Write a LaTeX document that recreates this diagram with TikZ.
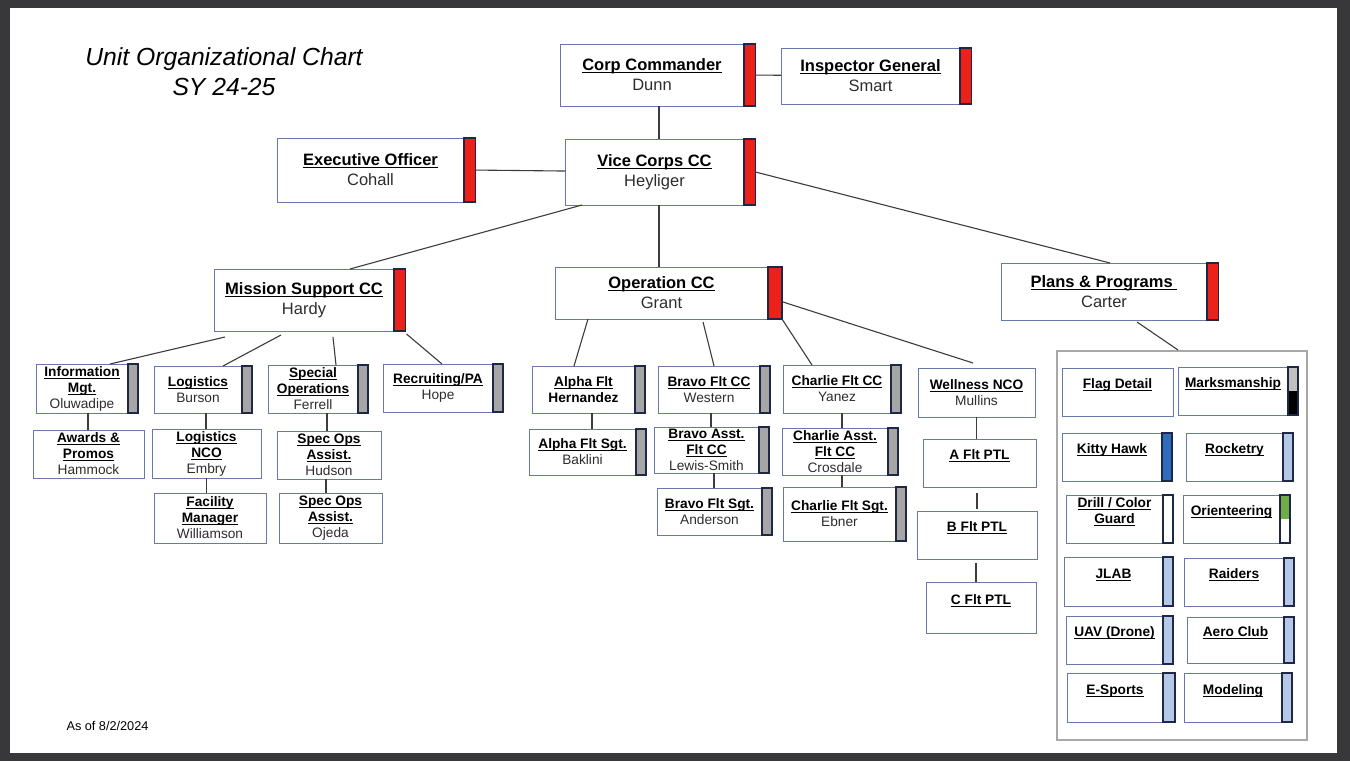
\documentclass[tikz,border=0pt]{standalone}
\usepackage{fontspec}
\setmainfont{Liberation Sans}
\usepackage{tikz}
\usetikzlibrary{positioning}
\definecolor{cardline}{RGB}{104,120,172}
\definecolor{barline}{RGB}{30,40,70}
\definecolor{barred}{RGB}{236,34,26}
\definecolor{bargrey}{RGB}{166,166,166}
\definecolor{barsilver}{RGB}{192,192,192}
\definecolor{barblue}{RGB}{46,108,190}
\definecolor{barpale}{RGB}{182,200,232}
\definecolor{bargreen}{RGB}{112,173,71}
\definecolor{linkgrey}{RGB}{60,60,60}
\definecolor{framegrey}{RGB}{56,56,58}
\definecolor{panelgrey}{RGB}{168,168,168}
\definecolor{nametext}{RGB}{45,45,45}

\newsavebox{\hdrbox}
\newcommand{\cardbig}{\fontsize{16.5}{20}\selectfont}
\newcommand{\cardsmall}{\fontsize{13.7}{16}\selectfont}
\newcommand{\hdr}[1]{\sbox{\hdrbox}{\textbf{#1}}\rlap{\rule[-2.4pt]{\wd\hdrbox}{0.9pt}}\usebox{\hdrbox}}
\newcommand{\nm}[1]{\textcolor{nametext}{#1}}

\begin{document}
\begin{tikzpicture}[
    x=1pt, y=-1pt,
    card/.style={rectangle, draw=cardline, fill=white, line width=0.8pt, inner sep=1pt, outer sep=0pt, align=center, anchor=north west, font=\cardsmall},
    bigcard/.style={card, font=\cardbig},
    dims/.style 2 args={minimum width=#1, minimum height=#2},
    bar/.style={rectangle, draw=barline, line width=1.5pt, inner sep=0pt, outer sep=0pt, minimum width=10, minimum height=#1},
    redbar/.style={bar=#1, fill=barred, minimum width=11.5},
    greybar/.style={bar=#1, fill=bargrey},
    palebar/.style={bar=#1, fill=barpale},
    panelbox/.style={rectangle, draw=panelgrey, line width=1.6pt, fill=white, anchor=north west, inner sep=0pt},
    link/.style={draw=linkgrey, line width=1.1pt}
]
    \fill[framegrey] (0,0) rectangle (1350,761);
    \fill[white] (10,8) rectangle (1337,753);

    \node[font=\fontsize{24.7}{30}\selectfont\itshape, align=center] (title) at (224,72) {Unit Organizational Chart\\SY 24-25};
    \node[font=\fontsize{12.7}{15}\selectfont, anchor=west] (asof) at (63,726) {As of 8/2/2024};

    \node[bigcard, dims={184}{62}] (corp) at (560,44) {\hdr{Corp Commander}\\\nm{Dunn}};
    \node[redbar=62, right=0pt of corp] (corpbar) {};
    \node[bigcard, dims={179}{56}] (ig) at (781,48) {\hdr{Inspector General}\\\nm{Smart}};
    \node[redbar=56, right=0pt of ig] (igbar) {};
    \node[bigcard, dims={179}{66}] (vice) at (565,139) {\hdr{Vice Corps CC}\\\nm{Heyliger}};
    \node[redbar=66, right=0pt of vice] (vicebar) {};
    \node[bigcard, dims={187}{64}] (xo) at (277,138) {\hdr{Executive Officer}\\\nm{Cohall}};
    \node[redbar=64, right=0pt of xo] (xobar) {};
    \node[bigcard, dims={180}{62}] (ms) at (214,269) {\hdr{Mission Support CC}\\\nm{Hardy}};
    \node[redbar=62, right=0pt of ms] (msbar) {};
    \node[bigcard, dims={213}{52}] (ops) at (555,267) {\hdr{Operation CC}\\\nm{Grant}};
    \node[redbar=52, right=0pt of ops, minimum width=14] (opsbar) {};
    \node[bigcard, dims={206}{57}] (plans) at (1001,263) {\hdr{Plans \& Programs\ }\\\nm{Carter}};
    \node[redbar=57, right=0pt of plans] (plansbar) {};

    \node[card, dims={92}{49}] (info) at (36,364) {\hdr{Information}\\\hdr{Mgt.}\\\nm{Oluwadipe}};
    \node[greybar=49, right=0pt of info] (infobar) {};
    \node[card, dims={88}{47}] (logi) at (154,366) {\hdr{Logistics}\\\nm{Burson}};
    \node[greybar=47, right=0pt of logi] (logibar) {};
    \node[card, dims={90}{48}] (spec) at (268,365) {\hdr{Special}\\\hdr{Operations}\\\nm{Ferrell}};
    \node[greybar=48, right=0pt of spec] (specbar) {};
    \node[card, dims={110}{48}] (recr) at (383,364) {\hdr{Recruiting/PA}\\\nm{Hope}};
    \node[greybar=48, right=0pt of recr] (recrbar) {};
    \node[card, dims={111}{48}] (awards) at (33,430) {\hdr{Awards \&}\\\hdr{Promos}\\\nm{Hammock}};
    \node[card, dims={109}{49}] (logn) at (152,429) {\hdr{Logistics}\\\hdr{NCO}\\\nm{Embry}};
    \node[card, dims={112}{50}] (facil) at (154,493) {\hdr{Facility}\\\hdr{Manager}\\\nm{Williamson}};
    \node[card, dims={104}{48}] (hudson) at (277,431) {\hdr{Spec Ops}\\\hdr{Assist.}\\\nm{Hudson}};
    \node[card, dims={103}{50}] (ojeda) at (279,493) {\hdr{Spec Ops}\\\hdr{Assist.}\\\nm{Ojeda}};

    \node[card, dims={103}{47}] (alpha) at (532,366) {\hdr{Alpha Flt}\\\textbf{Hernandez}};
    \node[greybar=47, right=0pt of alpha] (alphabar) {};
    \node[card, dims={107}{46}] (alphasgt) at (529,429) {\hdr{Alpha Flt Sgt.}\\\nm{Baklini}};
    \node[greybar=46, right=0pt of alphasgt] (alphasgtbar) {};
    \node[card, dims={102}{47}] (bravo) at (658,366) {\hdr{Bravo Flt CC}\\\nm{Western}};
    \node[greybar=47, right=0pt of bravo] (bravobar) {};
    \node[card, dims={105}{46}] (bravoasst) at (654,427) {\hdr{Bravo Asst.}\\\hdr{Flt CC}\\\nm{Lewis-Smith}};
    \node[greybar=46, right=0pt of bravoasst] (bravoasstbar) {};
    \node[card, dims={105}{47}] (bravosgt) at (657,488) {\hdr{Bravo Flt Sgt.}\\\nm{Anderson}};
    \node[greybar=47, right=0pt of bravosgt] (bravosgtbar) {};
    \node[card, dims={108}{48}] (charlie) at (783,365) {\hdr{Charlie Flt CC}\\\nm{Yanez}};
    \node[greybar=48, right=0pt of charlie] (charliebar) {};
    \node[card, dims={106}{47}] (charlieasst) at (782,428) {\hdr{Charlie Asst.}\\\hdr{Flt CC}\\\nm{Crosdale}};
    \node[greybar=47, right=0pt of charlieasst] (charlieasstbar) {};
    \node[card, dims={113}{54}] (charliesgt) at (783,487) {\hdr{Charlie Flt Sgt.}\\\nm{Ebner}};
    \node[greybar=54, right=0pt of charliesgt] (charliesgtbar) {};
    \node[card, dims={117}{49}] (well) at (918,368) {\hdr{Wellness NCO}\\\nm{Mullins}};
    \node[card, dims={113}{48}] (aptl) at (923,439) {\hdr{A Flt PTL}\\~};
    \node[card, dims={120}{48}] (bptl) at (917,511) {\hdr{B Flt PTL}\\~};
    \node[card, dims={110}{51}] (cptl) at (926,582) {\hdr{C Flt PTL}\\~};

    \node[panelbox, dims={250}{389}] (panel) at (1056,350) {};
    \node[card, dims={111}{48}] (flag) at (1062,368) {\hdr{Flag Detail}\\~};
    \node[card, dims={110}{48}] (marks) at (1178,367) {\hdr{Marksmanship}\\~};
    \node[bar=48, fill=barsilver, right=0pt of marks, path picture={\fill[black] (path picture bounding box.west) rectangle (path picture bounding box.south east);}] (marksbar) {};
    \node[card, dims={100}{48}] (kitty) at (1062,433) {\hdr{Kitty Hawk}\\~};
    \node[bar=48, fill=barblue, right=0pt of kitty] (kittybar) {};
    \node[card, dims={97}{48}] (rocket) at (1186,433) {\hdr{Rocketry}\\~};
    \node[palebar=48, right=0pt of rocket] (rocketbar) {};
    \node[card, dims={97}{48}] (drill) at (1066,495) {\hdr{Drill / Color}\\\hdr{Guard}\\~};
    \node[bar=48, fill=white, right=0pt of drill] (drillbar) {};
    \node[card, dims={97}{48}] (orient) at (1183,495) {\hdr{Orienteering}\\~};
    \node[bar=48, fill=white, right=0pt of orient, path picture={\fill[bargreen] (path picture bounding box.north west) rectangle (path picture bounding box.east);}] (orientbar) {};
    \node[card, dims={99}{49}] (jlab) at (1064,557) {\hdr{JLAB}\\~};
    \node[palebar=49, right=0pt of jlab] (jlabbar) {};
    \node[card, dims={100}{48}] (raiders) at (1184,558) {\hdr{Raiders}\\~};
    \node[palebar=48, right=0pt of raiders] (raidersbar) {};
    \node[card, dims={97}{48}] (uav) at (1066,616) {\hdr{UAV (Drone)}\\~};
    \node[palebar=48, right=0pt of uav] (uavbar) {};
    \node[card, dims={97}{46}] (aero) at (1187,617) {\hdr{Aero Club}\\~};
    \node[palebar=46, right=0pt of aero] (aerobar) {};
    \node[card, dims={96}{49}] (esports) at (1067,673) {\hdr{E-Sports}\\~};
    \node[palebar=49, right=0pt of esports, minimum width=12] (esportsbar) {};
    \node[card, dims={98}{49}] (model) at (1184,673) {\hdr{Modeling}\\~};
    \node[palebar=49, right=0pt of model] (modelbar) {};

    \draw[link] (corpbar) -- (ig);
    \draw[link] ([xshift=7]corp.south) -- ([xshift=7]corp.south |- vice.north);
    \draw[link] (xobar) -- (vice);
    \draw[link] ([xshift=17]vice.south west) -- ([xshift=136]ms.north west);
    \draw[link] ([xshift=4.5]vice.south) -- ([xshift=4.5]vice.south |- ops.north);
    \draw[link] (vicebar.east) -- ([xshift=109]plans.north west);
    \draw[link] ([shift={(11,6)}]ms.south west) -- ([xshift=74]info.north west);
    \draw[link] ([shift={(67,4)}]ms.south west) -- ([xshift=69]logi.north west);
    \draw[link] ([shift={(119,6)}]ms.south west) -- ([xshift=68]spec.north west);
    \draw[link] ([shift={(1,3)}]msbar.south east) -- ([xshift=59]recr.north west);
    \draw[link] ([xshift=6]info.south) -- ([xshift=6]info.south |- awards.north);
    \draw[link] ([xshift=8]logi.south) -- ([xshift=8]logi.south |- logn.north);
    \draw[link] (logn.south) -- (logn.south |- facil.north);
    \draw[link] ([xshift=14]spec.south) -- ([xshift=14]spec.south |- hudson.north);
    \draw[link] ([xshift=-3]hudson.south) -- ([xshift=-3]hudson.south |- ojeda.north);
    \draw[link] ([xshift=33]ops.south west) -- ([xshift=42]alpha.north west);
    \draw[link] ([shift={(148,3)}]ops.south west) -- ([xshift=56]bravo.north west);
    \draw[link] ([xshift=7]opsbar.south) -- ([xshift=29]charlie.north west);
    \draw[link] ([shift={(1,9)}]opsbar.east) -- ([shift={(55,-5)}]well.north west);
    \draw[link] ([xshift=8.5]alpha.south) -- ([xshift=8.5]alpha.south |- alphasgt.north);
    \draw[link] ([xshift=2]bravo.south) -- ([xshift=2]bravo.south |- bravoasst.north);
    \draw[link] ([xshift=7.5]bravoasst.south) -- ([xshift=7.5]bravoasst.south |- bravosgt.north);
    \draw[link] ([xshift=5]charlie.south) -- ([xshift=5]charlie.south |- charlieasst.north);
    \draw[link] ([xshift=7]charlieasst.south) -- ([xshift=7]charlieasst.south |- charliesgt.north);
    \draw[link] (well.south) -- (well.south |- aptl.north);
    \draw[link] ([shift={(-2.5,6)}]aptl.south) -- ([shift={(-2.5,-2)}]aptl.south |- bptl.north);
    \draw[link] ([shift={(-1,4)}]bptl.south) -- ([xshift=-1]bptl.south |- cptl.north);
    \draw[link] ([shift={(136,2)}]plans.south west) -- ([xshift=122]panel.north west);
\end{tikzpicture}
\end{document}
